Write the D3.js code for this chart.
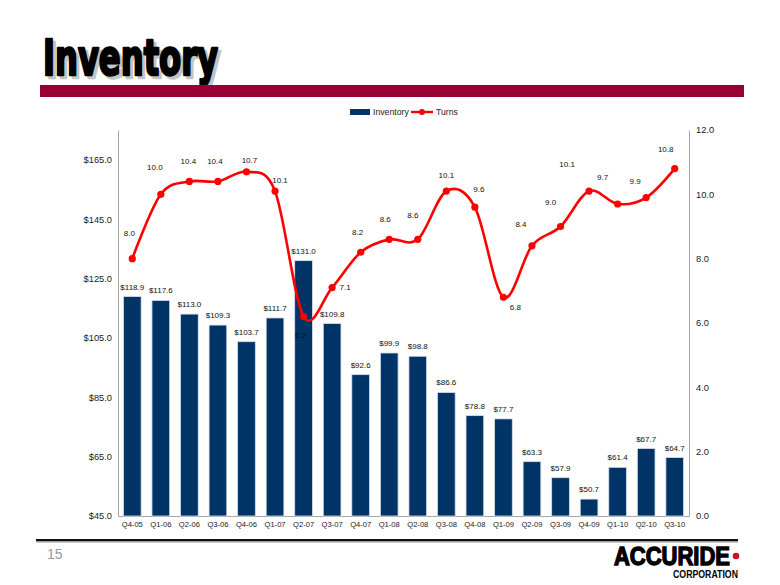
<!DOCTYPE html>
<html>
<head>
<meta charset="utf-8">
<script src="https://cdn.jsdelivr.net/npm/d3@7/dist/d3.min.js"></script>
<style>
  html, body { margin: 0; padding: 0; background: #fff; }
  svg { display: block; font-family: "Liberation Sans", Arial, sans-serif; }
</style>
</head>
<body>
<svg id="chart" width="780" height="585"></svg>
<script>
// ---------- data ----------
const categories = ["Q4-05","Q1-06","Q2-06","Q3-06","Q4-06","Q1-07","Q2-07","Q3-07","Q4-07","Q1-08",
                    "Q2-08","Q3-08","Q4-08","Q1-09","Q2-09","Q3-09","Q4-09","Q1-10","Q2-10","Q3-10"];
const inventory = [118.9,117.6,113.0,109.3,103.7,111.7,131.0,109.8,92.6,99.9,
                   98.8,86.6,78.8,77.7,63.3,57.9,50.7,61.4,67.7,64.7];
const turns = [8.0,10.0,10.4,10.4,10.7,10.1,6.2,7.1,8.2,8.6,
               8.6,10.1,9.6,6.8,8.4,9.0,10.1,9.7,9.9,10.8];
const leftTicks = [45,65,85,105,125,145,165];
const rightTicks = [0,2,4,6,8,10,12];
const seriesNames = ["Inventory","Turns"];

// ---------- layout ----------
const svg = d3.select("#chart");
const plot = {left: 118, right: 689, top: 130, bottom: 516};
const navy = "#003366", red = "#ff0000";

// title
const title = svg.append("g");
const titleFont = "'Liberation Sans Narrow','DejaVu Sans Condensed','Liberation Sans',sans-serif";
title.append("text").attr("x", 46).attr("y", 78).text("Inventory")
  .attr("font-family", titleFont).attr("font-weight", "bold").attr("font-size", 49)
  .attr("textLength", 175).attr("lengthAdjust", "spacingAndGlyphs")
  .attr("fill", "#c4c4c4").attr("stroke", "#c4c4c4").attr("stroke-width", 2.4).attr("stroke-linejoin", "round");
title.append("text").attr("x", 43).attr("y", 75).text("Inventory")
  .attr("font-family", titleFont).attr("font-weight", "bold").attr("font-size", 49)
  .attr("textLength", 175).attr("lengthAdjust", "spacingAndGlyphs")
  .attr("fill", "#000").attr("stroke", "#000").attr("stroke-width", 2.4).attr("stroke-linejoin", "round");

// maroon rule
svg.append("rect").attr("x", 40).attr("y", 85).attr("width", 704).attr("height", 12).attr("fill", "#990033");

// scales
const x = d3.scaleBand().domain(categories).range([plot.left, plot.right])
  .paddingInner(0.38).paddingOuter(0.19);
const yL = d3.scaleLinear().domain([45, 175]).range([plot.bottom, plot.top]);
const yR = d3.scaleLinear().domain([0, 12]).range([plot.bottom, plot.top]);

// axes
const axisColor = "#a6a6a6";
const gL = svg.append("g").attr("transform", `translate(${plot.left},0)`)
  .call(d3.axisLeft(yL).tickValues(leftTicks).tickSize(0).tickPadding(6).tickFormat(d => "$" + d3.format(".1f")(d)));
const gR = svg.append("g").attr("transform", `translate(${plot.right},0)`)
  .call(d3.axisRight(yR).tickValues(rightTicks).tickSize(0).tickPadding(7).tickFormat(d3.format(".1f")));
const gB = svg.append("g").attr("transform", `translate(0,${plot.bottom})`)
  .call(d3.axisBottom(x).tickSize(0).tickPadding(6));
[gL, gR, gB].forEach(g => {
  g.select(".domain").attr("stroke", axisColor).attr("stroke-width", 1);
  g.selectAll("text").attr("fill", "#1a1a1a").attr("font-family", "'Liberation Sans',Arial,sans-serif");
});
gL.selectAll("text").attr("font-size", 9.3);
gR.selectAll("text").attr("font-size", 9.3);
gB.selectAll("text").attr("font-size", 7.6);

// bars
svg.append("g").selectAll("rect").data(inventory).join("rect")
  .attr("x", (d, i) => x(categories[i]))
  .attr("width", x.bandwidth())
  .attr("y", d => yL(d))
  .attr("height", d => yL(45) - yL(d))
  .attr("fill", navy).attr("stroke", "#d6dfe9").attr("stroke-width", 0.8);

// bar labels
svg.append("g").selectAll("text").data(inventory).join("text")
  .attr("x", (d, i) => x(categories[i]) + x.bandwidth() / 2)
  .attr("y", d => yL(d) - 7)
  .attr("text-anchor", "middle").attr("font-size", 8).attr("fill", "#111")
  .text(d => "$" + d3.format(".1f")(d));

// turns line
const cx = i => x(categories[i]) + x.bandwidth() / 2;
const line = d3.line().x((d, i) => cx(i)).y(d => yR(d)).curve(d3.curveCardinal.tension(0));
svg.append("path").datum(turns).attr("d", line)
  .attr("fill", "none").attr("stroke", red).attr("stroke-width", 2.6);
svg.append("g").selectAll("circle").data(turns).join("circle")
  .attr("cx", (d, i) => cx(i)).attr("cy", d => yR(d)).attr("r", 3.6).attr("fill", red);

// turns labels (offset from point, label layout only)
const turnLabelNudge = [[-3,-25],[-6,-27],[-1,-20],[-3,-20],[3,-12],[5,-11],[-3,19],[13,0],[-3,-20],[-4,-20],
                        [-5,-24],[0,-16],[4,-18],[12,10],[-11,-22],[-10,-24],[-22,-27],[-15,-27],[-11,-16],[-9,-19]];
svg.append("g").selectAll("text").data(turns).join("text")
  .attr("x", (d, i) => cx(i) + turnLabelNudge[i][0])
  .attr("y", (d, i) => yR(d) + turnLabelNudge[i][1])
  .attr("dy", "0.35em")
  .attr("text-anchor", "middle").attr("font-size", 8).attr("fill", "#111")
  .text(d => d3.format(".1f")(d));

// legend
const lg = svg.append("g").attr("font-size", 8.7).attr("fill", "#222");
lg.append("rect").attr("x", 350).attr("y", 109).attr("width", 20).attr("height", 6).attr("fill", navy);
lg.append("text").attr("x", 373).attr("y", 112).attr("dy", "0.35em").text(seriesNames[0]);
lg.append("line").attr("x1", 411).attr("x2", 433).attr("y1", 112).attr("y2", 112).attr("stroke", red).attr("stroke-width", 2.4);
lg.append("circle").attr("cx", 422).attr("cy", 112).attr("r", 3).attr("fill", red);
lg.append("text").attr("x", 436).attr("y", 112).attr("dy", "0.35em").text(seriesNames[1]);

// footer rule
svg.append("rect").attr("x", 36).attr("y", 539).attr("width", 702).attr("height", 2).attr("fill", "#111");
svg.append("rect").attr("x", 36).attr("y", 541).attr("width", 702).attr("height", 1.5).attr("fill", "#9a9a9a");

// page number
svg.append("text").attr("x", 47).attr("y", 559).attr("font-size", 14).attr("fill", "#9a9a9a").text("15");

// logo
const logo = svg.append("g");
logo.append("text").attr("x", 730).attr("y", 565).attr("text-anchor", "end")
  .attr("font-family", "'Liberation Sans',Arial,sans-serif").attr("font-weight", "bold").attr("font-size", 26)
  .attr("textLength", 116).attr("lengthAdjust", "spacingAndGlyphs")
  .attr("fill", "#000").attr("stroke", "#000").attr("stroke-width", 1.4).text("ACCURIDE");
logo.append("circle").attr("cx", 736).attr("cy", 556).attr("r", 3.3).attr("fill", "#cc1122");
logo.append("text").attr("x", 738).attr("y", 578).attr("text-anchor", "end")
  .attr("font-family", "'Liberation Sans Narrow','Liberation Sans',Arial,sans-serif").attr("font-weight", "bold").attr("font-size", 10)
  .attr("textLength", 65).attr("lengthAdjust", "spacingAndGlyphs")
  .attr("fill", "#000").text("CORPORATION");
</script>
</body>
</html>
